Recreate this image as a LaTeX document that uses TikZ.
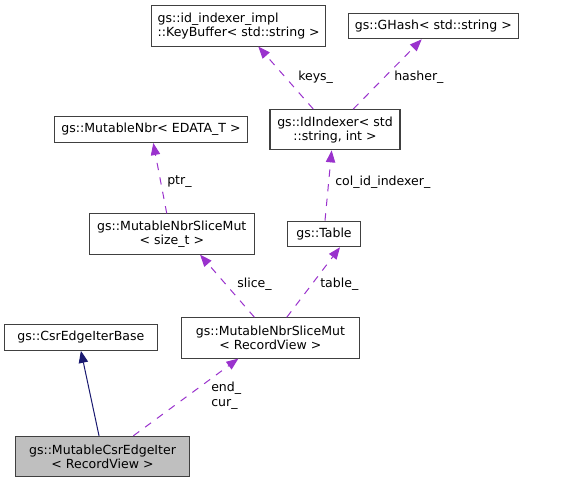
\documentclass[tikz,border=0pt]{standalone}
\usepackage{fontspec}
\setmainfont{DejaVu Sans}
\usetikzlibrary{arrows.meta}
\definecolor{edgepurple}{HTML}{9A32CD}
\definecolor{inhblue}{HTML}{191970}
\definecolor{boxgray}{HTML}{404040}
\tikzset{
  cls/.style={draw=boxgray, line width=0.8pt, inner sep=0pt, align=center,
    font=\fontsize{9.4}{10.5}\selectfont},
  onecls/.style={cls, minimum height=19.2pt},
  twocls/.style={cls, minimum height=30.2pt},
  member/.style={edgepurple, line width=0.75pt, dash pattern=on 5.5pt off 5.5pt,
    -{Triangle[length=9pt,width=7pt]}},
  inherit/.style={inhblue, line width=0.75pt, -{Triangle[length=9pt,width=7pt]}},
  lbl/.style={anchor=west, inner sep=0pt, align=left, font=\fontsize{9.4}{11}\selectfont}
}
\begin{document}
\begin{tikzpicture}[x=0.75pt,y=-0.75pt]
    \useasboundingbox[fill=white] (0,0) rectangle (563,483);
    %% Classes
    \node[twocls,align=left,minimum width=130.5pt] (keybuf) at (238.7,25.9)
        {gs::id\_indexer\_impl\\::KeyBuffer< std::string >};
    \node[onecls,minimum width=127.5pt] (ghash) at (433.3,26)
        {gs::GHash< std::string >};
    \node[onecls,minimum width=145pt] (nbr) at (151,129.7)
        {gs::MutableNbr< EDATA\_T >};
    \node[twocls,minimum width=97.5pt] (idx) at (335,129.7)
        {gs::IdIndexer< std\\::string, int >};
    \node[twocls,minimum width=123.75pt] (slicest) at (171.8,234)
        {gs::MutableNbrSliceMut\\< size\_t >};
    \node[onecls,minimum width=55pt] (table) at (324,233.9)
        {gs::Table};
    \node[onecls,minimum width=114.2pt] (base) at (80.9,337.5)
        {gs::CsrEdgeIterBase};
    \node[twocls,minimum width=133pt] (slicerv) at (270.4,337.9)
        {gs::MutableNbrSliceMut\\< RecordView >};
    \node[twocls,fill=black!25,minimum width=130.2pt] (iter) at (102.5,456.5)
        {gs::MutableCsrEdgeIter\\< RecordView >};
    %% Inheritance
    \draw[inherit] ([xshift=-2.6pt]iter.north) -- (base.south);
    %% Members
    \draw[member] ([xshift=23.1pt]iter.north) -- ([xshift=-24pt]slicerv.south);
    \draw[member] ([xshift=-12pt]slicerv.north) -- ([xshift=21.2pt]slicest.south);
    \draw[member] ([xshift=12.3pt]slicerv.north) -- ([xshift=12pt]table.south);
    \draw[member] ([xshift=-3.8pt]slicest.north) -- ([xshift=1.7pt]nbr.south);
    \draw[member] ([xshift=0.75pt]table.north) -- ([xshift=-2.5pt]idx.south);
    \draw[member] ([xshift=-16.3pt]idx.north) -- ([xshift=14.7pt]keybuf.south);
    \draw[member] ([xshift=13.7pt]idx.north) -- ([xshift=-8.7pt]ghash.south);
    %% Member names
    \node[lbl] (lend) at (211,396) {end\_\\cur\_};
    \node[lbl] (lslice) at (237,284) {slice\_};
    \node[lbl] (ltable) at (320,284) {table\_};
    \node[lbl] (lptr) at (167,182) {ptr\_};
    \node[lbl] (lcol) at (335,182) {col\_id\_indexer\_};
    \node[lbl] (lkeys) at (298,77) {keys\_};
    \node[lbl] (lhash) at (394,77) {hasher\_};
\end{tikzpicture}
\end{document}
